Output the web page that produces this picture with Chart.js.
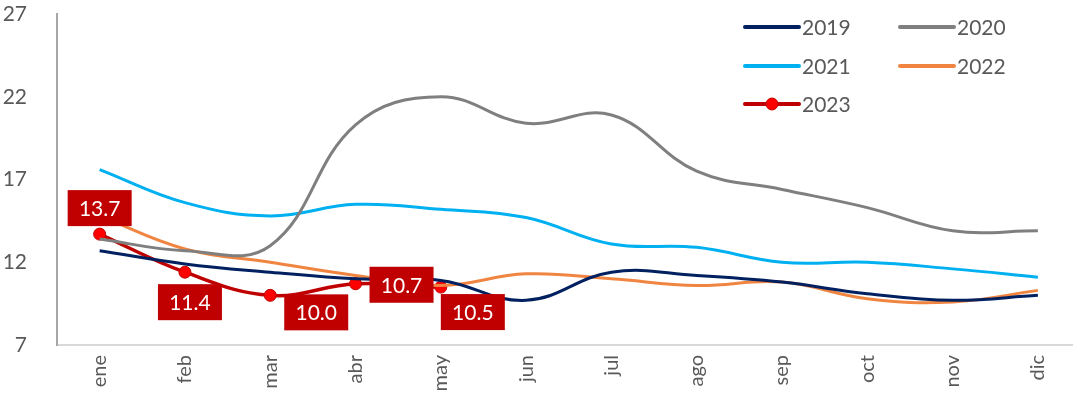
<!DOCTYPE html>
<html>
<head>
<meta charset="utf-8">
<script src="https://cdn.jsdelivr.net/npm/chart.js@4"></script>
<style>
html, body { margin: 0; padding: 0; background: #fff; }
#wrap { width: 1079px; height: 400px; }
</style>
</head>
<body>
<div id="wrap"><canvas id="myChart"></canvas></div>
<script>
const months = ['ene', 'feb', 'mar', 'abr', 'may', 'jun', 'jul', 'ago', 'sep', 'oct', 'nov', 'dic'];

const y2019 = [12.7, 11.9, 11.4, 11.0, 10.9, 9.7, 11.4, 11.2, 10.8, 10.1, 9.7, 10.0];
const y2020 = [13.4, 12.7, 13.0, 20.3, 22.0, 20.4, 20.9, 17.5, 16.4, 15.3, 13.9, 13.9];
const y2021 = [17.6, 15.6, 14.8, 15.5, 15.2, 14.7, 13.1, 12.9, 12.0, 12.0, 11.6, 11.1];
const y2022 = [14.8, 12.8, 12.0, 11.2, 10.6, 11.3, 11.0, 10.6, 10.8, 9.8, 9.6, 10.3];
const y2023 = [13.7, 11.4, 10.0, 10.7, 10.5];

const yTicks = [7, 12, 17, 22, 27];

const textColor = '#595959';
const fontFamily = 'Lato, "Open Sans", sans-serif';

// where each 2023 label box sits relative to its point (px)
const labelOffsets = [[0, -26], [5, 30], [46, 17], [46, 1], [32, 25]];

function toPoints(values) {
   return values.map((v, i) => ({ x: i, y: v }));
}

const series = [
   { label: '2019', data: y2019, color: '#002060' },
   { label: '2020', data: y2020, color: '#7f7f7f' },
   { label: '2021', data: y2021, color: '#00b0f0' },
   { label: '2022', data: y2022, color: '#f08541' },
];

const datasets = series.map(s => ({
   label: s.label,
   data: toPoints(s.data),
   borderColor: s.color,
   borderWidth: 3,
   pointRadius: 0,
   tension: 0.4,
   fill: false,
}));

datasets.push({
   label: '2023',
   data: toPoints(y2023),
   borderColor: '#c00000',
   borderWidth: 3.5,
   pointRadius: 6,
   pointBackgroundColor: '#ff0000',
   pointBorderColor: '#c00000',
   pointBorderWidth: 1,
   tension: 0.4,
   fill: false,
});

const valueBoxes = {
   id: 'valueBoxes',
   afterDatasetsDraw(chart) {
      const ctx = chart.ctx;
      const meta = chart.getDatasetMeta(4);
      ctx.save();
      ctx.font = '21px ' + fontFamily;
      ctx.textAlign = 'center';
      ctx.textBaseline = 'middle';
      meta.data.forEach((pt, i) => {
         const [dx, dy] = labelOffsets[i];
         const cx = pt.x + dx, cy = pt.y + dy;
         ctx.fillStyle = '#c00000';
         ctx.fillRect(cx - 32, cy - 18, 64, 36);
         ctx.fillStyle = '#ffffff';
         ctx.fillText(y2023[i].toFixed(1), cx, cy + 1);
      });
      ctx.restore();
   }
};

const gridLegend = {
   id: 'gridLegend',
   afterDraw(chart) {
      const ctx = chart.ctx;
      const cols = [745, 900];
      const rows = [27, 66, 104];
      ctx.save();
      ctx.font = '21px ' + fontFamily;
      ctx.textBaseline = 'middle';
      ctx.lineCap = 'round';
      chart.data.datasets.forEach((ds, i) => {
         const x = cols[i % 2], y = rows[Math.floor(i / 2)];
         ctx.strokeStyle = ds.borderColor;
         ctx.lineWidth = 4;
         ctx.beginPath();
         ctx.moveTo(x, y);
         ctx.lineTo(x + 54, y);
         ctx.stroke();
         if (ds.pointRadius) {
            ctx.fillStyle = ds.pointBackgroundColor;
            ctx.strokeStyle = ds.pointBorderColor;
            ctx.lineWidth = 1;
            ctx.beginPath();
            ctx.arc(x + 27, y, 6, 0, Math.PI * 2);
            ctx.fill();
            ctx.stroke();
         }
         ctx.fillStyle = textColor;
         ctx.fillText(ds.label, x + 57, y + 1);
      });
      ctx.restore();
   }
};

const ctx = document.getElementById('myChart').getContext('2d');

const myChart = new Chart(ctx, {
   type: 'line',
   data: { datasets },
   options: {
      responsive: true,
      maintainAspectRatio: false,
      animation: false,
      layout: { padding: { top: 14, right: 0 } },
      plugins: {
         legend: { display: false },
         tooltip: { enabled: false },
      },
      scales: {
         x: {
            type: 'linear',
            min: -0.5,
            max: 11.4,
            grid: { display: false },
            border: { color: '#d9d9d9', width: 2 },
            afterBuildTicks(scale) {
               scale.ticks = months.map((m, i) => ({ value: i }));
            },
            afterFit(scale) {
               scale.height = 55;
               scale.paddingLeft = 0;
               scale.paddingRight = 0;
            },
            ticks: {
               color: textColor,
               font: { size: 20, family: fontFamily },
               minRotation: 90,
               maxRotation: 90,
               padding: 2,
               callback: (v) => months[v],
            },
         },
         y: {
            min: 7,
            max: 27,
            grid: { display: false },
            border: { color: '#a6a6a6', width: 2 },
            afterBuildTicks(scale) {
               scale.ticks = yTicks.map(v => ({ value: v }));
            },
            afterFit(scale) {
               scale.width = 57;
               scale.paddingTop = 0;
               scale.paddingBottom = 0;
            },
            ticks: {
               color: textColor,
               font: { size: 21, family: fontFamily },
               padding: 22,
            },
         },
      },
   },
   plugins: [valueBoxes, gridLegend],
});
</script>
</body>
</html>
